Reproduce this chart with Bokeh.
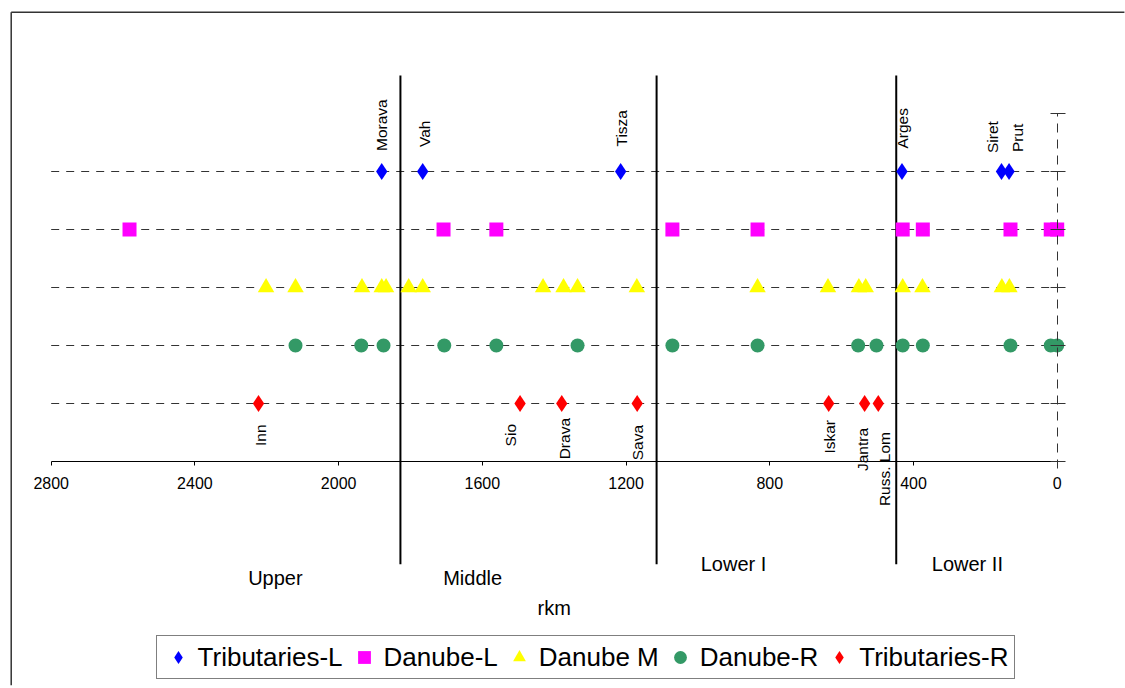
import math
from bokeh.plotting import figure
from bokeh.models import (Range1d, LinearAxis, FixedTicker, Legend, LegendItem, Label)
from bokeh.core.properties import value
from bokeh.embed import file_html
from bokeh.resources import INLINE

# ---------------- data ----------------
categories = ["Tributaries-L", "Danube-L", "Danube M", "Danube-R", "Tributaries-R"]

trib_l_names = ["Morava", "Vah", "Tisza", "Arges", "Siret", "Prut"]
trib_l_rkm = [1880, 1766, 1215, 432, 155, 134]

danube_l_rkm = [2582, 1708, 1561, 1071, 834, 430, 374, 130, 18, 0]

danube_m_rkm = [2202, 2120, 1935, 1880, 1868, 1805, 1766, 1431, 1374, 1335,
                1170, 834, 638, 552, 533, 430, 375, 154, 133]

danube_r_rkm = [2120, 1937, 1875, 1706, 1561, 1335, 1071, 834, 554, 503,
                430, 374, 130, 18, 0]

trib_r_names = ["Inn", "Sio", "Drava", "Sava", "Iskar", "Jantra", "Russ. Lom"]
trib_r_rkm = [2223, 1495, 1379, 1169, 636, 536, 498]

region_names = ["Upper", "Middle", "Lower I", "Lower II"]
region_bounds_rkm = [1828, 1115, 448]

x_ticks = [2800, 2400, 2000, 1600, 1200, 800, 400, 0]
axis_title = "rkm"

# ---------------- layout / style (not data) ----------------
FONT = "Liberation Sans"
W, H = 1125, 686
X_RANGE = (2941.11, -190.1)
Y_RANGE = (-3.8793, 7.9483)
LINE_TOP, LINE_BOTTOM = 6.655, -1.77
BORDER_LEFT, BORDER_TOP = 2911.3, 7.7466
trib_l_dx = [0, 1.5, 1, 1, -9.5, 8]
trib_l_dy = [-20.5, -24.5, -25, -23, -18.5, -19.5]
trib_r_dx = [1.5, -9.5, 2.5, 0, 0.5, -2, 6]
trib_r_dy = [21, 20.5, 14.5, 21.5, 16.5, 24.5, 28.5]
region_label_rkm = [2176, 1627, 901, 250]
region_label_y = [-2.0, -2.0, -1.76, -1.76]
colors = ["#0000FF", "#FF00FF", "#FFFF00", "#339966", "#FF0000"]

n_rows = len(categories)
row_y = [n_rows - i for i in range(n_rows)]

p = figure(width=W, height=H, x_range=Range1d(*X_RANGE), y_range=Range1d(*Y_RANGE),
           x_axis_location=None, y_axis_location=None, toolbar_location=None,
           output_backend="svg", min_border=0, outline_line_color=None,
           background_fill_color="white", border_fill_color="white")
p.grid.visible = False

# outer chart border: only its left and top edges fall inside the picture
p.segment(x0=[BORDER_LEFT], y0=[BORDER_TOP], x1=[BORDER_LEFT], y1=[Y_RANGE[0] + 0.02],
          line_color="#333333", line_width=1.5)
p.segment(x0=[BORDER_LEFT], y0=[BORDER_TOP], x1=[X_RANGE[1] + 3], y1=[BORDER_TOP],
          line_color="#333333", line_width=1.5)

# dashed row lines
p.segment(x0=[x_ticks[0]] * n_rows, x1=[x_ticks[-1]] * n_rows, y0=row_y, y1=row_y,
          line_color="#333333", line_width=1, line_dash="8 7")

# region boundaries
p.segment(x0=region_bounds_rkm, x1=region_bounds_rkm,
          y0=[LINE_TOP] * len(region_bounds_rkm), y1=[LINE_BOTTOM] * len(region_bounds_rkm),
          line_color="black", line_width=2)

series = [trib_l_rkm, danube_l_rkm, danube_m_rkm, danube_r_rkm, trib_r_rkm]
markers = ["diamond", "square", "triangle", "circle", "diamond"]
sizes = [17, 14, 16.5, 14, 17]
renderers = []
for vals, yv, mk, sz, col in zip(series, row_y, markers, sizes, colors):
    r = p.scatter(x=vals, y=[yv] * len(vals), marker=mk, size=sz,
                  fill_color=col, line_color=None)
    renderers.append(r)

# tributary labels
p.text(x=trib_l_rkm, y=[row_y[0]] * len(trib_l_rkm), text=trib_l_names,
       angle=math.pi / 2, x_offset=trib_l_dx, y_offset=trib_l_dy,
       text_align="left", text_baseline="middle", text_color="black",
       text_font=value(FONT), text_font_size=value("15.5px"))
p.text(x=trib_r_rkm, y=[row_y[-1]] * len(trib_r_rkm), text=trib_r_names,
       angle=math.pi / 2, x_offset=trib_r_dx, y_offset=trib_r_dy,
       text_align="right", text_baseline="middle", text_color="black",
       text_font=value(FONT), text_font_size=value("15.5px"))

# region names
p.text(x=region_label_rkm, y=region_label_y, text=region_names,
       text_align="center", text_baseline="middle", text_color="black",
       text_font=value(FONT), text_font_size=value("20px"))

p.add_layout(Label(x=(x_ticks[0] + x_ticks[-1]) / 2, y=-2.534, text=axis_title,
                   text_align="center", text_baseline="middle", text_color="black",
                   text_font=FONT, text_font_size="20px"))

# x axis
xaxis = LinearAxis(fixed_location=0, bounds=(x_ticks[-1], x_ticks[0]),
                   ticker=FixedTicker(ticks=x_ticks, minor_ticks=[]),
                   major_tick_in=0, major_tick_out=4, minor_tick_line_color=None,
                   axis_line_color="black", major_tick_line_color="black",
                   major_label_text_font=FONT, major_label_text_font_size="16px",
                   major_label_text_color="black", major_label_standoff=11)
p.add_layout(xaxis, "below")

# right dashed axis
yticks = list(range(0, n_rows + 2))
yaxis = LinearAxis(fixed_location=0, bounds=(-0.12, n_rows + 1),
                   ticker=FixedTicker(ticks=yticks, minor_ticks=[]),
                   major_tick_in=7, major_tick_out=8, minor_tick_line_color=None,
                   axis_line_color="#333333", axis_line_dash="9 7",
                   major_tick_line_color="#333333",
                   major_label_overrides={t: "" for t in yticks},
                   major_label_text_color=None)
p.add_layout(yaxis, "right")

legend = Legend(items=[LegendItem(label=c, renderers=[r]) for c, r in zip(categories, renderers)],
                orientation="horizontal", location=(155.6, 6.7),
                padding=5, spacing=5, label_standoff=4, glyph_width=32, glyph_height=32,
                label_text_font=FONT, label_text_font_size="26px", label_text_color="black",
                border_line_color="black", border_line_width=1,
                background_fill_color="white", background_fill_alpha=1.0, margin=0)
p.add_layout(legend)

open("out.html", "w").write(file_html(p, INLINE))
